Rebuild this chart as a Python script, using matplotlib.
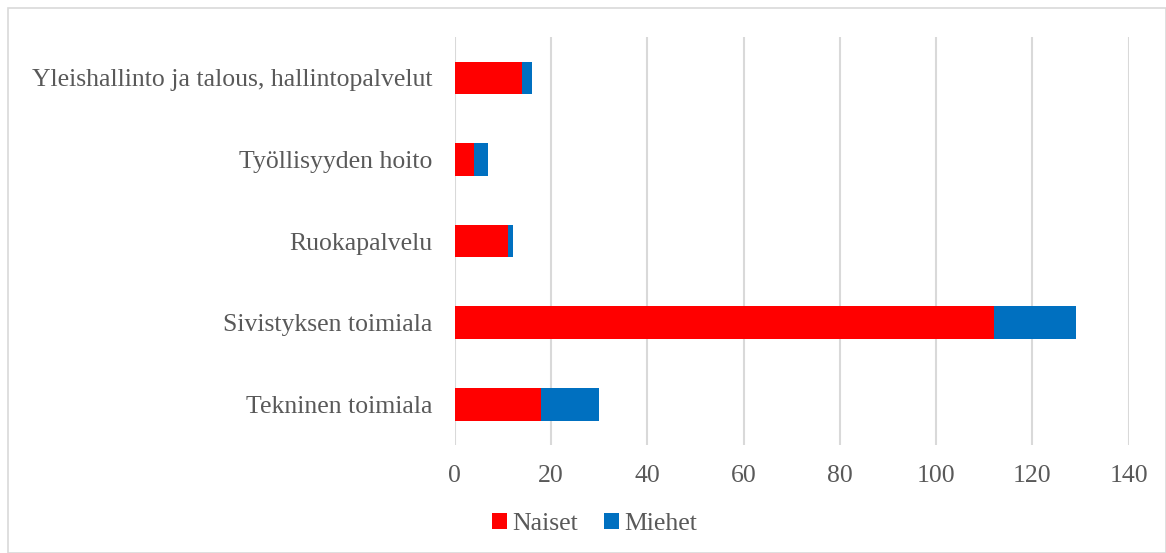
import numpy as np
import matplotlib.pyplot as plt
from matplotlib.patches import Rectangle

categories = ["Tekninen toimiala", "Sivistyksen toimiala", "Ruokapalvelu",
              "Työllisyyden hoito", "Yleishallinto ja talous, hallintopalvelut"]
naiset = [18, 112, 11, 4, 14]
miehet = [12, 17, 1, 3, 2]
xticks = [0, 20, 40, 60, 80, 100, 120, 140]

plt.rcParams['font.family'] = ['Liberation Serif', 'DejaVu Serif']
txt = '#595959'

fig = plt.figure(figsize=(11.66, 5.53), dpi=100)
ax = fig.add_axes([0.390, 0.195, 0.578, 0.738])

y = np.arange(len(categories))
ax.barh(y, naiset, height=0.4, color='#ff0000', label='Naiset', zorder=3)
ax.barh(y, miehet, left=naiset, height=0.4, color='#0070c0', label='Miehet', zorder=3)

ax.set_xlim(0, 140)
ax.set_ylim(-0.5, len(categories) - 0.5)
ax.set_xticks(xticks)
ax.set_yticks(y)
ax.set_yticklabels(categories)
ax.tick_params(axis='both', length=0, labelsize=18.5, colors=txt)
ax.tick_params(axis='x', pad=14)
ax.tick_params(axis='y', pad=16)
ax.grid(axis='x', color='#d9d9d9', linewidth=1.5, zorder=0)
for s in ax.spines.values():
    s.set_visible(False)

fig.legend(loc='center', bbox_to_anchor=(0.51, 0.053), ncol=2, frameon=False,
           fontsize=18.5, labelcolor=txt, handlelength=0.6, handleheight=0.6,
           handletextpad=0.2, columnspacing=1.0)

fig.patches.append(Rectangle((0.007, 0.0), 0.993, 0.985, transform=fig.transFigure,
                             fill=False, edgecolor='#d9d9d9', linewidth=1.2))

fig.savefig('out.png', dpi=100)
